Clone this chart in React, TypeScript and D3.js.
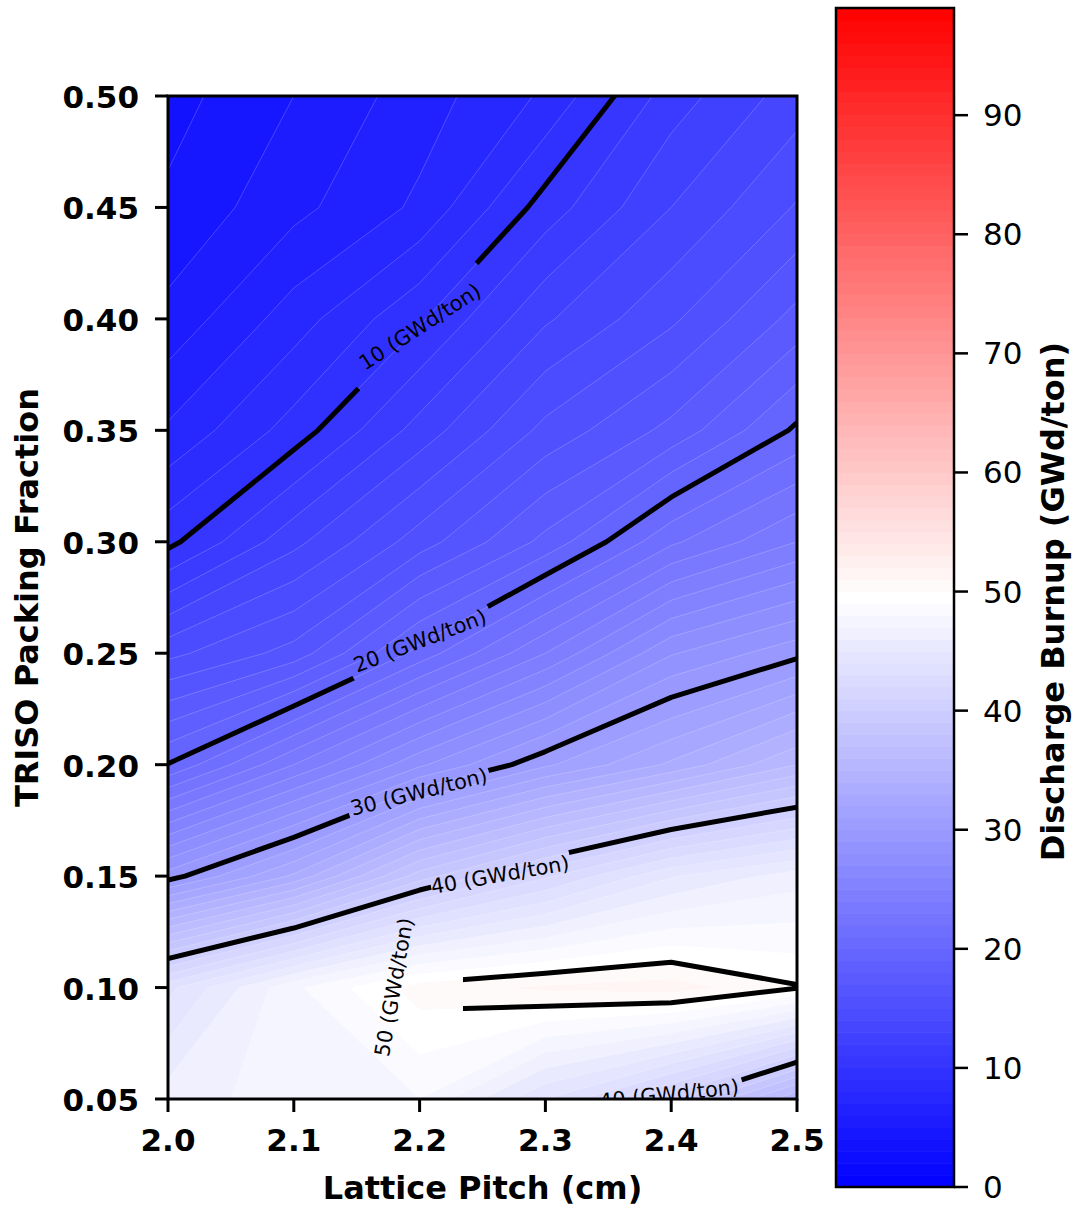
import React from 'react';
import * as d3 from 'd3';

// Lattice pitch (cm) along x, TRISO packing fraction along y
const pitches = [2.0, 2.1, 2.2, 2.3, 2.4, 2.5];
const packingFractions = [0.05, 0.10, 0.15, 0.20, 0.25, 0.30, 0.35, 0.40, 0.45, 0.50];

// Discharge burnup (GWd/ton), one row per packing fraction (0.05 first), one column per pitch
const burnupRow005 = [46.5, 47.5, 48.0, 44.0, 40.5, 35.0];
const burnupRow010 = [43.7, 47.8, 50.5, 51.2, 51.5, 50.1];
const burnupRow015 = [29.5, 33.2, 38.5, 41.8, 44.9, 46.5];
const burnupRow020 = [20.05, 24.0, 27.8, 30.8, 33.2, 36.0];
const burnupRow025 = [14.7, 16.4, 20.4, 24.0, 27.9, 29.7];
const burnupRow030 = [9.7, 12.7, 15.5, 18.3, 21.8, 24.0];
const burnupRow035 = [7.15, 9.43, 12.4, 15.3, 17.3, 20.2];
const burnupRow040 = [5.3, 7.5, 9.85, 12.85, 14.8, 17.35];
const burnupRow045 = [4.2, 5.7, 7.2, 10.46, 13.0, 15.1];
const burnupRow050 = [3.6, 5.0, 6.5, 8.17, 11.5, 13.5];
const burnupRows = [
  burnupRow005, burnupRow010, burnupRow015, burnupRow020, burnupRow025,
  burnupRow030, burnupRow035, burnupRow040, burnupRow045, burnupRow050,
];

const fillLevels = d3.range(0, 100); // 0, 1, ..., 99
const lineLevels = [10, 20, 30, 40, 50];
const xTicks = [2.0, 2.1, 2.2, 2.3, 2.4, 2.5];
const yTicks = [0.05, 0.10, 0.15, 0.20, 0.25, 0.30, 0.35, 0.40, 0.45, 0.50];
const cbarTicks = [0, 10, 20, 30, 40, 50, 60, 70, 80, 90];

// Inline contour labels: level, anchor in data units, text angle, and the gap cut into the line
const contourLabels = [
  { level: 10, x: 2.2003, y: 0.3964, angle: -33, gx: 2.1995, gy: 0.3962, gapAngle: -46, gapLen: 172, gapTh: 30 },
  { level: 20, x: 2.2003, y: 0.2555, angle: -21, gx: 2.2011, gy: 0.2546, gapAngle: -28, gapLen: 152, gapTh: 30 },
  { level: 30, x: 2.1995, y: 0.1877, angle: -14, gx: 2.1995, gy: 0.1873, gapAngle: -18, gapLen: 146, gapTh: 28 },
  { level: 40, x: 2.2639, y: 0.1505, angle: -10, gx: 2.2647, gy: 0.1509, gapAngle: -13, gapLen: 142, gapTh: 28 },
  { level: 50, x: 2.1797, y: 0.1002, angle: -80, gx: 2.2003, gy: 0.1002, gapAngle: 0, gapLen: 86, gapTh: 52 },
  { level: 40, x: 2.3983, y: 0.0522, angle: -6, gx: 2.4070, gy: 0.0531, gapAngle: -17, gapLen: 125, gapTh: 30 },
];

const W = 1079;
const H = 1209;
const plot = { left: 168, right: 797, top: 96, bottom: 1099 };
const cbar = { left: 836, right: 954, top: 8, bottom: 1187 };
const FONT = '"DejaVu Sans", sans-serif';
const VMIN = 0;
const VMAX = 99;

const xScale = d3.scaleLinear().domain([2.0, 2.5]).range([plot.left, plot.right]);
const yScale = d3.scaleLinear().domain([0.05, 0.5]).range([plot.bottom, plot.top]);
const cScale = d3.scaleLinear().domain([VMIN, VMAX]).range([cbar.bottom, cbar.top]);

// matplotlib "bwr": blue -> white -> red
function bwr(t: number): string {
  const u = Math.max(0, Math.min(1, t));
  let r: number, g: number, b: number;
  if (u < 0.5) {
    r = g = 2 * u;
    b = 1;
  } else {
    r = 1;
    g = b = 2 * (1 - u);
  }
  return d3.rgb(r * 255, g * 255, b * 255).formatHex();
}
const bandColor = (lo: number) => bwr((lo + 0.5 - VMIN) / (VMAX - VMIN));

const nx = pitches.length;
const ny = packingFractions.length;
const values = burnupRows.flat();
const contourGen = d3.contours().size([nx, ny]).smooth(true);

// d3.contours places sample i at grid coordinate i + 0.5
const gxToPx = d3.scaleLinear()
  .domain([0.5, nx - 0.5])
  .range([xScale(pitches[0]), xScale(pitches[nx - 1])]);
const gyToPx = d3.scaleLinear()
  .domain([0.5, ny - 0.5])
  .range([yScale(packingFractions[0]), yScale(packingFractions[ny - 1])]);

function multiPolygonPath(mp: any): string {
  return mp.coordinates
    .map((poly: number[][][]) =>
      poly
        .map((ring) => 'M' + ring.map(([gx, gy]) => `${gxToPx(gx).toFixed(2)},${gyToPx(gy).toFixed(2)}`).join('L') + 'Z')
        .join('')
    )
    .join('');
}

const fillBands = fillLevels.slice(0, -1).map((lo) => ({
  lo,
  d: multiPolygonPath(contourGen.contour(values, lo)),
  color: bandColor(lo),
}));

const linePaths = lineLevels.map((lv) => ({ lv, d: multiPolygonPath(contourGen.contour(values, lv)) }));

export default function App() {
  const pw = plot.right - plot.left;
  const ph = plot.bottom - plot.top;
  return (
    <svg
      width={W}
      height={H}
      viewBox={`0 0 ${W} ${H}`}
      style={{ position: 'absolute', left: 0, top: 0, background: '#fff' }}
      fontFamily={FONT}
    >
      <defs>
        <clipPath id="plotClip">
          <rect x={plot.left} y={plot.top} width={pw} height={ph} />
        </clipPath>
        <mask id="labelGaps" maskUnits="userSpaceOnUse" x={0} y={0} width={W} height={H}>
          <rect x={0} y={0} width={W} height={H} fill="#fff" />
          {contourLabels.map((lb, i) => (
            <rect
              key={i}
              transform={`translate(${xScale(lb.gx)},${yScale(lb.gy)}) rotate(${lb.gapAngle})`}
              x={-lb.gapLen / 2}
              y={-lb.gapTh / 2}
              width={lb.gapLen}
              height={lb.gapTh}
              fill="#000"
            />
          ))}
        </mask>
      </defs>

      <rect x={0} y={0} width={W} height={H} fill="#fff" />

      {/* filled contour bands */}
      <g clipPath="url(#plotClip)">
        {fillBands.map((b) => (
          <path key={b.lo} d={b.d} fill={b.color} fillRule="evenodd" />
        ))}
        {fillBands.slice(1).map((b) => (
          <path key={'s' + b.lo} d={b.d} fill="none" stroke="#fff" strokeOpacity={0.25} strokeWidth={0.8} />
        ))}
      </g>

      {/* labelled contour lines */}
      <g clipPath="url(#plotClip)">
        <g mask="url(#labelGaps)">
          {linePaths.map((p) => (
            <path key={p.lv} d={p.d} fill="none" stroke="#000" strokeWidth={5} strokeLinejoin="round" />
          ))}
        </g>
        {contourLabels.map((lb, i) => (
          <text
            key={i}
            transform={`translate(${xScale(lb.x)},${yScale(lb.y)}) rotate(${lb.angle})`}
            textAnchor="middle"
            dominantBaseline="central"
            fontSize={20.8}
            fill="#000"
          >
            {`${lb.level} (GWd/ton)`}
          </text>
        ))}
      </g>

      {/* axes frame */}
      <rect x={plot.left} y={plot.top} width={pw} height={ph} fill="none" stroke="#000" strokeWidth={3} />

      {/* x ticks */}
      {xTicks.map((t) => (
        <g key={'x' + t}>
          <line x1={xScale(t)} x2={xScale(t)} y1={plot.bottom} y2={plot.bottom + 13} stroke="#000" strokeWidth={3} />
          <text x={xScale(t)} y={plot.bottom + 52} textAnchor="middle" fontSize={31} fontWeight="bold">
            {t.toFixed(1)}
          </text>
        </g>
      ))}
      {/* y ticks */}
      {yTicks.map((t) => (
        <g key={'y' + t}>
          <line x1={plot.left - 13} x2={plot.left} y1={yScale(t)} y2={yScale(t)} stroke="#000" strokeWidth={3} />
          <text x={plot.left - 29} y={yScale(t) + 12} textAnchor="end" fontSize={31} fontWeight="bold">
            {t.toFixed(2)}
          </text>
        </g>
      ))}

      <text x={(plot.left + plot.right) / 2} y={1199} textAnchor="middle" fontSize={32} fontWeight="bold">
        Lattice Pitch (cm)
      </text>
      <text
        transform={`translate(38,${(plot.top + plot.bottom) / 2}) rotate(-90)`}
        textAnchor="middle"
        fontSize={32}
        fontWeight="bold"
      >
        TRISO Packing Fraction
      </text>

      {/* colorbar */}
      <g>
        {fillLevels.slice(0, -1).map((lo) => (
          <rect
            key={'c' + lo}
            x={cbar.left}
            y={cScale(lo + 1)}
            width={cbar.right - cbar.left}
            height={cScale(lo) - cScale(lo + 1) + 0.6}
            fill={bandColor(lo)}
          />
        ))}
        <rect
          x={cbar.left}
          y={cbar.top}
          width={cbar.right - cbar.left}
          height={cbar.bottom - cbar.top}
          fill="none"
          stroke="#000"
          strokeWidth={2.5}
        />
        {cbarTicks.map((t) => (
          <g key={'ct' + t}>
            <line x1={cbar.right} x2={cbar.right + 14} y1={cScale(t)} y2={cScale(t)} stroke="#000" strokeWidth={2.5} />
            <text x={cbar.right + 29} y={cScale(t) + 11} fontSize={31}>
              {t}
            </text>
          </g>
        ))}
        <text
          transform={`translate(1064,${(cbar.top + cbar.bottom) / 2 + 4}) rotate(-90)`}
          textAnchor="middle"
          fontSize={32}
          fontWeight="bold"
        >
          Discharge Burnup (GWd/ton)
        </text>
      </g>
    </svg>
  );
}
